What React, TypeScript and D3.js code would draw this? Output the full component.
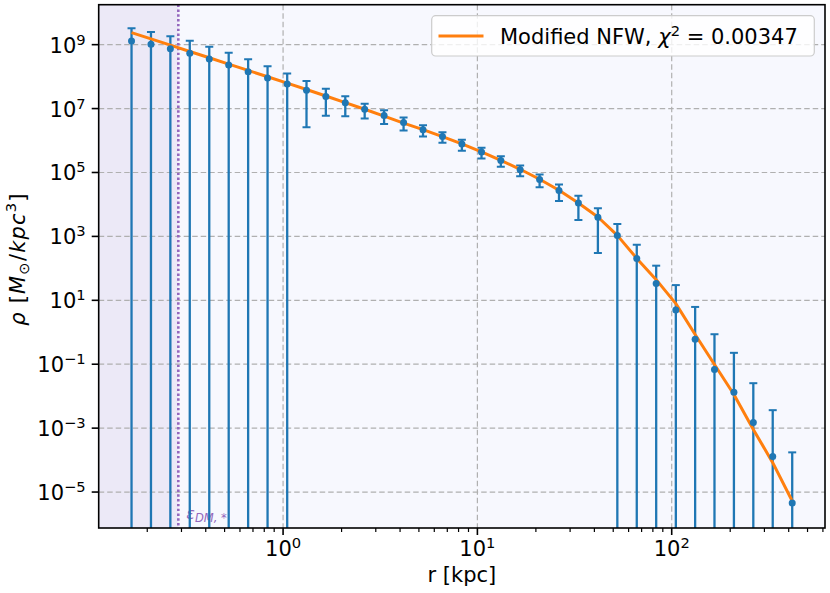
import * as d3 from "d3";

// radius of each bin [kpc]
const radius = [
  0.166, 0.209, 0.263, 0.331, 0.417, 0.525, 0.661, 0.832, 1.05, 1.32, 1.66, 2.09,
  2.63, 3.31, 4.17, 5.25, 6.61, 8.32, 10.5, 13.2, 16.6, 20.9, 26.3, 33.1, 41.7,
  52.5, 66.1, 83.2, 105, 132, 166, 209, 263, 331, 417,
];
// measured density [Msun/kpc^3]
const density = [
  1.31e9, 1.03e9, 7.5e8, 5.38e8, 3.57e8, 2.32e8, 1.43e8, 9.1e7, 5.91e7, 3.76e7,
  2.37e7, 1.51e7, 9.57e6, 6.04e6, 3.65e6, 2.16e6, 1.33e6, 7.72e5, 4.34e5, 2.37e5,
  1.21e5, 6.04e4, 2.74e4, 1.107e4, 3.98e3, 1.075e3, 205, 33.3, 4.94, 0.604,
  0.0683, 0.01334, 1.508e-3, 1.306e-4, 4.53e-6,
];
const densityErr = [
  1.94e9, 1.47e9, 1.08e9, 7.9e8, 5.1e8, 3.3e8, 2.07e8, 1.2e8, 6.5e7, 3.5e7,
  1.77e7, 9.3e6, 4.7e6, 2.75e6, 1.6e6, 8.3e5, 4.8e5, 2.95e5, 1.58e5, 8.5e4,
  4.5e4, 2.57e4, 1.45e4, 7.8e3, 3.68e3, 1.39e3, 346, 88, 25, 5.6,
  0.8, 0.214, 0.024, 3.52e-3, 1.7e-4,
];
// modified NFW fit evaluated at the same radii
const fitDensity = [
  2.37e9, 1.52e9, 9.64e8, 6.13e8, 3.9e8, 2.46e8, 1.56e8, 9.93e7, 6.27e7, 3.95e7,
  2.48e7, 1.54e7, 9.51e6, 5.83e6, 3.52e6, 2.19e6, 1.33e6, 7.89e5, 4.44e5, 2.4e5,
  1.26e5, 6.13e4, 2.78e4, 1.107e4, 4.04e3, 1.075e3, 205, 44.3, 7.89, 0.848,
  0.098, 0.0113, 9.1e-4, 8.3e-5, 5.23e-6,
];
const epsDM = 0.289;
const xLimits: [number, number] = [0.1125, 615];
const yLimits: [number, number] = [1.78e10, 7.5e-7];
const xMajor = [1, 10, 100];
const yMajor = [1e9, 1e7, 1e5, 1e3, 1e1, 1e-1, 1e-3, 1e-5];
const fitLabel = "Modified NFW, ";
const chi2 = "0.00347";

const FONT = "'DejaVu Sans', sans-serif";
const BLUE = "#1f77b4";
const ORANGE = "#ff7f0e";
const PURPLE = "#9467bd";
const FS = 21;

function expo(v: number) {
  const e = Math.round(Math.log10(v));
  return e < 0 ? `\u2212${-e}` : `${e}`;
}

export default function App() {
  const left = 98.7, right = 825, top = 4.7, bottom = 528;
  const x = d3.scaleLog().domain(xLimits).range([left, right]);
  const y = d3.scaleLog().domain(yLimits).range([top, bottom]);

  const minorX: number[] = [];
  for (let p = -1; p <= 2; p++)
    for (let m = 2; m <= 9; m++) {
      const v = m * Math.pow(10, p);
      if (v > xLimits[0] && v < xLimits[1]) minorX.push(v);
    }

  const fitLine = d3.line<number>()
    .x((_, i) => x(radius[i]))
    .y(d => y(d));

  const cap = 4;

  return (
    <div style={{ position: "fixed", left: 0, top: 0 }}>
      <svg width={830} height={593} style={{ display: "block", background: "#fff" }} fontFamily={FONT}>
        <defs>
          <clipPath id="plot-clip">
            <rect x={left} y={top} width={right - left} height={bottom - top} />
          </clipPath>
        </defs>

        {/* axes face + softening region */}
        <rect x={left} y={top} width={right - left} height={bottom - top} fill="#f7f8fe" />
        <rect x={left} y={top} width={x(epsDM) - left} height={bottom - top} fill={PURPLE} fillOpacity={0.1} />

        {/* grid */}
        <g stroke="#b0b0b0" strokeWidth={1.2} strokeDasharray="5.5,3">
          {xMajor.map(v => (
            <line key={`gx${v}`} x1={x(v)} x2={x(v)} y1={top} y2={bottom} />
          ))}
          {yMajor.map(v => (
            <line key={`gy${v}`} x1={left} x2={right} y1={y(v)} y2={y(v)} />
          ))}
        </g>

        {/* epsilon marker */}
        <line x1={x(epsDM)} x2={x(epsDM)} y1={top} y2={bottom} stroke={PURPLE} strokeWidth={2.6} strokeDasharray="2.4,2.4" />
        <text x={x(epsDM) + 8} y={519} fill={PURPLE} fontSize={16} fontStyle="italic">
          ε<tspan fontSize={11.5} dy={3}>DM, *</tspan>
        </text>

        <g clipPath="url(#plot-clip)">
          {/* error bars */}
          <g stroke={BLUE} strokeWidth={2.3}>
            {density.map((d, i) => {
              const cx = x(radius[i]);
              const hi = d + densityErr[i];
              const lo = d - densityErr[i];
              const yHi = y(hi);
              const yLo = lo > 0 ? y(lo) : bottom + 10;
              return (
                <g key={`e${i}`}>
                  <line x1={cx} x2={cx} y1={yHi} y2={yLo} />
                  <line x1={cx - cap} x2={cx + cap} y1={yHi} y2={yHi} strokeWidth={2} />
                  {lo > 0 && <line x1={cx - cap} x2={cx + cap} y1={yLo} y2={yLo} strokeWidth={2} />}
                </g>
              );
            })}
          </g>
          {/* fit */}
          <path d={fitLine(fitDensity) ?? ""} fill="none" stroke={ORANGE} strokeWidth={3} strokeLinejoin="round" />
          {/* data points */}
          {density.map((d, i) => (
            <circle key={`p${i}`} cx={x(radius[i])} cy={y(d)} r={3.5} fill={BLUE} />
          ))}
        </g>

        {/* spines */}
        <rect x={left} y={top} width={right - left} height={bottom - top} fill="none" stroke="#000" strokeWidth={1.6} />

        {/* ticks */}
        <g stroke="#000">
          {xMajor.map(v => (
            <line key={`tx${v}`} x1={x(v)} x2={x(v)} y1={bottom} y2={bottom + 7} strokeWidth={1.6} />
          ))}
          {minorX.map(v => (
            <line key={`mx${v}`} x1={x(v)} x2={x(v)} y1={bottom} y2={bottom + 4} strokeWidth={1.2} />
          ))}
          {yMajor.map(v => (
            <line key={`ty${v}`} x1={left - 7} x2={left} y1={y(v)} y2={y(v)} strokeWidth={1.6} />
          ))}
        </g>
        <g fontSize={FS} fill="#000">
          {xMajor.map(v => (
            <text key={`lx${v}`} x={x(v)} y={bottom + 28} textAnchor="middle">
              10<tspan fontSize={FS * 0.7} dy={-8}>{expo(v)}</tspan>
            </text>
          ))}
          {yMajor.map(v => (
            <text key={`ly${v}`} x={left - 13} y={y(v) + 8} textAnchor="end">
              10<tspan fontSize={FS * 0.7} dy={-8}>{expo(v)}</tspan>
            </text>
          ))}
        </g>

        {/* axis labels */}
        <text x={(left + right) / 2} y={582} textAnchor="middle" fontSize={FS}>r [kpc]</text>
        <text transform={`translate(25,259) rotate(-90)`} textAnchor="middle" fontSize={FS} letterSpacing={1.2}>
          <tspan fontStyle="italic">ρ</tspan>
          <tspan> [</tspan>
          <tspan fontStyle="italic">M</tspan>
          <tspan fontSize={FS * 0.7} dy={4}>⊙</tspan>
          <tspan dy={-4}>/</tspan>
          <tspan fontStyle="italic">kpc</tspan>
          <tspan fontSize={FS * 0.7} dy={-9}>3</tspan>
          <tspan dy={9}>]</tspan>
        </text>

        {/* legend */}
        <g>
          <rect x={431.7} y={15.7} width={382.6} height={40.3} rx={4} fill="#fff" fillOpacity={0.8} stroke="#cccccc" strokeWidth={1.2} />
          <line x1={438.5} x2={483.5} y1={36} y2={36} stroke={ORANGE} strokeWidth={3} />
          <text x={500} y={43.5} fontSize={FS}>
            {fitLabel}
            <tspan fontStyle="italic">χ</tspan>
            <tspan fontSize={FS * 0.7} dy={-8}>2</tspan>
            <tspan dy={8}>{` = ${chi2}`}</tspan>
          </text>
        </g>
      </svg>
    </div>
  );
}
